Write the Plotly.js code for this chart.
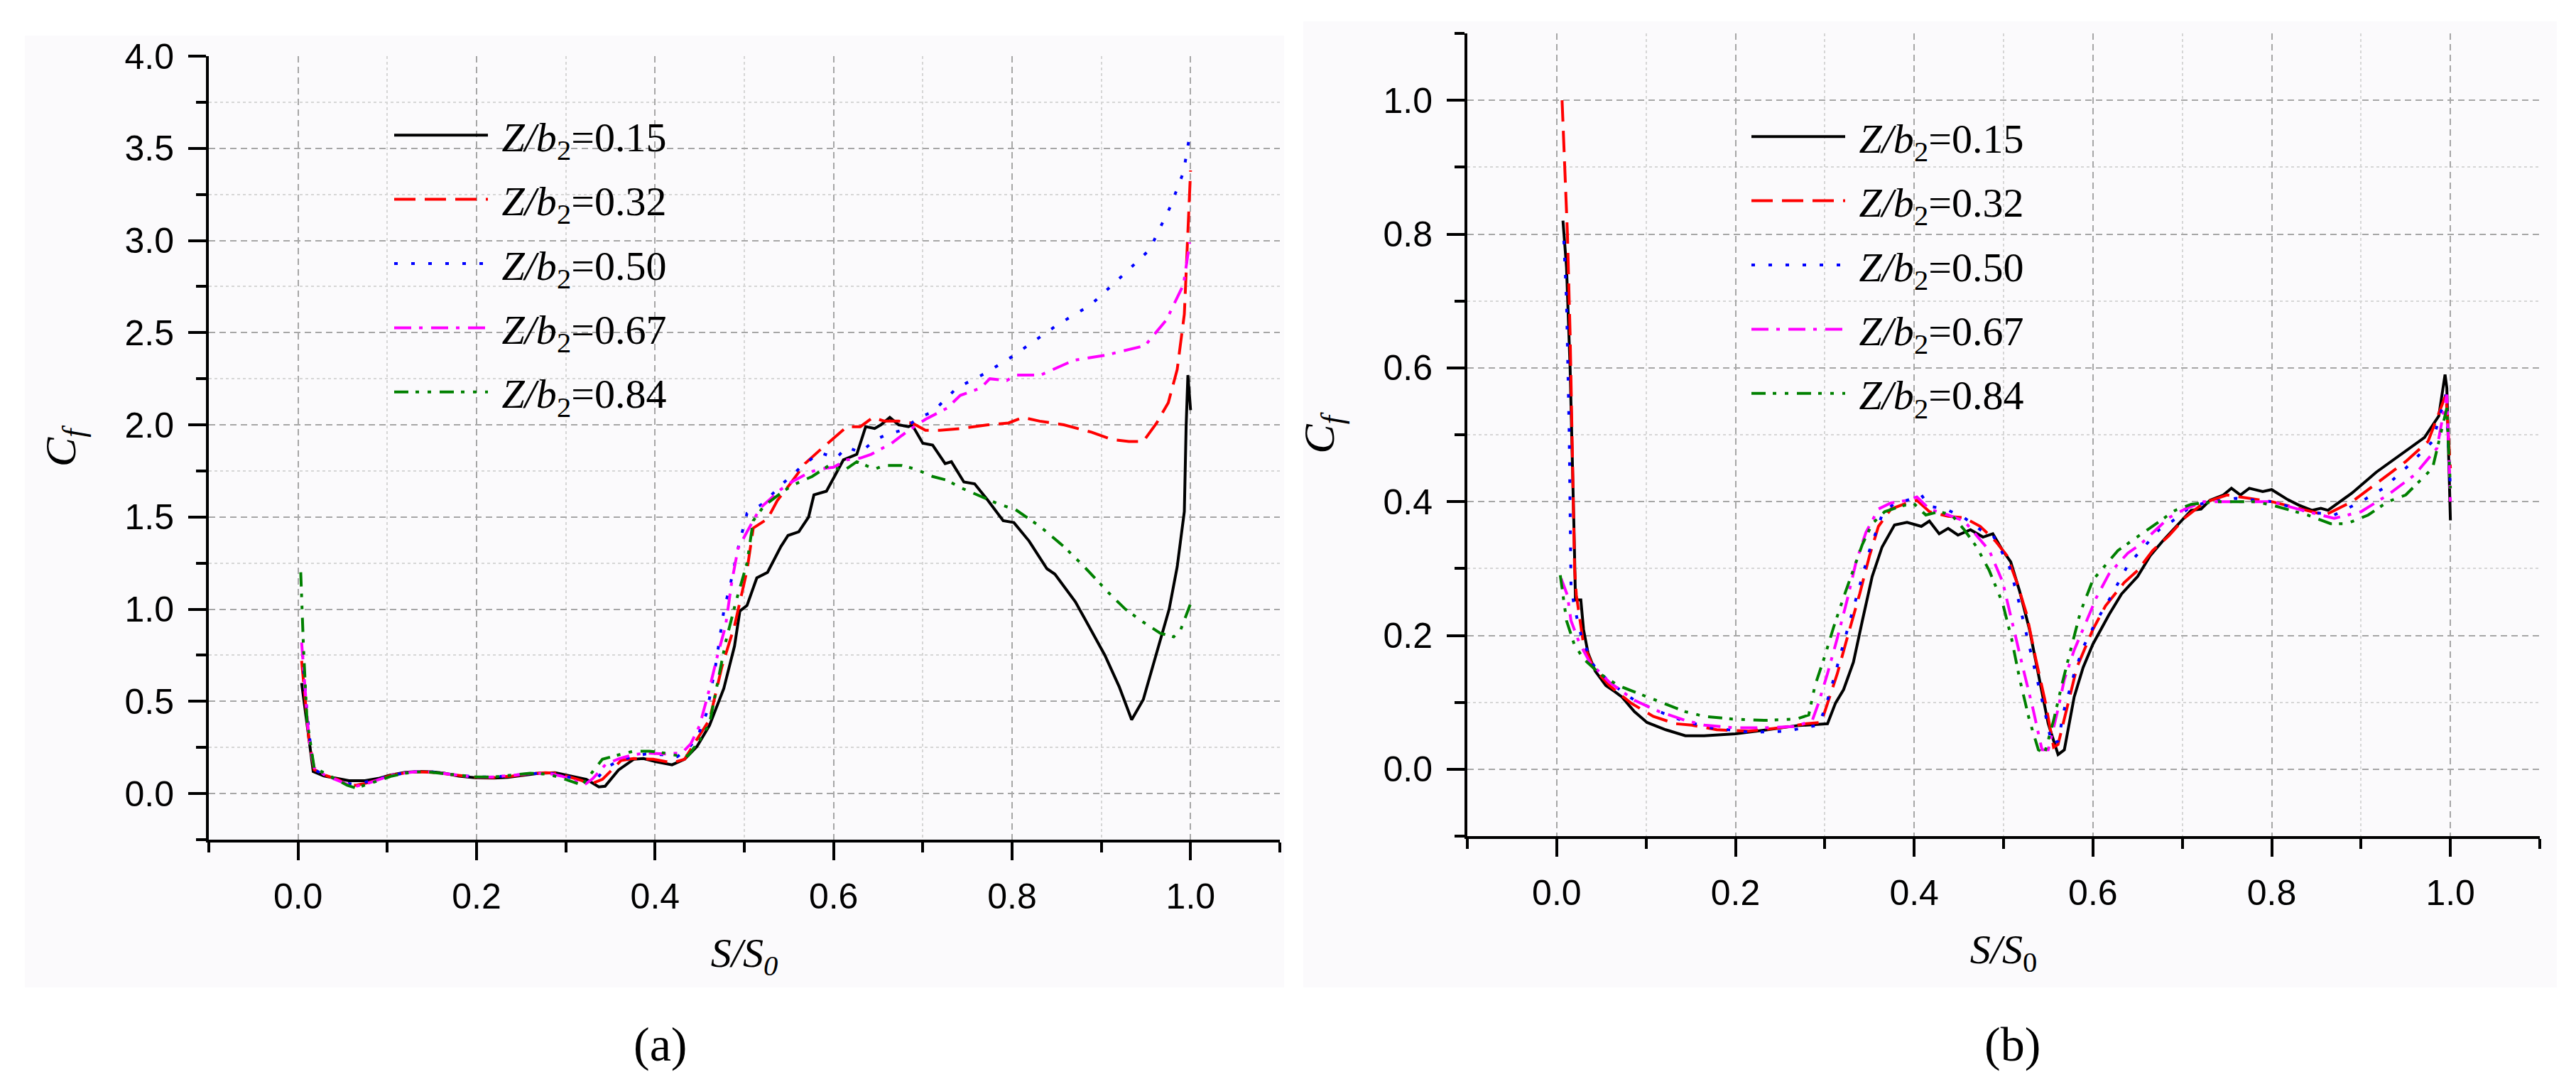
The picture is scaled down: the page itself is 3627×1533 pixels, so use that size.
<!DOCTYPE html>
<html>
<head>
<meta charset="utf-8">
<script src="https://cdn.plot.ly/plotly-3.0.1.min.js"></script>
<style>html,body{margin:0;padding:0;background:#fff;} #chart{width:3627px;height:1533px;}</style>
</head>
<body>
<div id="chart"></div>
<script>
// ---------- Data: panel (a) ----------
const aX15 = [0.004,0.008,0.012,0.017,0.029,0.045,0.057,0.075,0.09,0.103,
 0.12,0.135,0.15,0.164,0.18,0.2,0.22,0.235,0.255,0.27,
 0.288,0.305,0.323,0.337,0.344,0.359,0.376,0.387,0.401,0.419,
 0.433,0.447,0.461,0.477,0.489,0.495,0.503,0.514,0.526,0.541,
 0.549,0.561,0.572,0.578,0.592,0.601,0.611,0.626,0.636,0.646,
 0.653,0.663,0.673,0.684,0.688,0.70,0.711,0.725,0.732,0.746,
 0.758,0.773,0.79,0.802,0.819,0.839,0.848,0.871,0.889,0.904,
 0.92,0.934,0.947,0.962,0.976,0.985,0.993,0.995,0.997,1.0];
const aY15 = [0.60,0.45,0.28,0.12,0.096,0.08,0.07,0.07,0.082,0.10,
 0.115,0.12,0.118,0.11,0.095,0.085,0.084,0.088,0.10,0.11,
 0.113,0.096,0.077,0.036,0.04,0.128,0.186,0.19,0.173,0.156,
 0.186,0.256,0.37,0.57,0.80,0.99,1.02,1.17,1.20,1.34,
 1.40,1.42,1.50,1.62,1.64,1.72,1.81,1.84,1.99,1.98,
 2.00,2.04,2.00,1.99,2.00,1.90,1.89,1.79,1.80,1.69,
 1.68,1.59,1.48,1.47,1.37,1.22,1.19,1.04,0.88,0.75,
 0.58,0.40,0.51,0.77,1.00,1.23,1.53,1.99,2.27,2.08];

const aX32 = [0.004,0.008,0.012,0.018,0.03,0.045,0.054,0.065,0.075,0.09,
 0.105,0.12,0.135,0.15,0.17,0.2,0.22,0.24,0.26,0.277,
 0.29,0.305,0.318,0.327,0.341,0.352,0.362,0.376,0.398,0.419,
 0.433,0.447,0.461,0.475,0.489,0.503,0.51,0.526,0.537,0.553,
 0.568,0.584,0.601,0.615,0.63,0.644,0.657,0.673,0.688,0.703,
 0.719,0.742,0.773,0.796,0.812,0.831,0.858,0.889,0.912,0.931,
 0.947,0.962,0.975,0.985,0.993,0.997,1.0];
const aY32 = [0.72,0.5,0.3,0.13,0.10,0.075,0.05,0.045,0.055,0.075,
 0.10,0.112,0.118,0.115,0.105,0.088,0.087,0.095,0.108,0.113,
 0.11,0.09,0.07,0.05,0.077,0.13,0.18,0.19,0.186,0.167,
 0.186,0.295,0.40,0.69,0.91,1.21,1.44,1.49,1.59,1.69,
 1.79,1.86,1.93,1.99,1.99,2.04,2.02,2.02,2.01,1.97,
 1.97,1.98,2.0,2.01,2.04,2.02,2.0,1.96,1.92,1.91,
 1.91,2.01,2.12,2.3,2.6,3.0,3.38];

const aX50 = [0.005,0.009,0.013,0.018,0.03,0.045,0.055,0.065,0.075,0.09,
 0.105,0.12,0.135,0.15,0.17,0.2,0.22,0.24,0.26,0.28,
 0.295,0.31,0.325,0.333,0.345,0.36,0.375,0.39,0.41,0.425,
 0.438,0.447,0.458,0.468,0.477,0.485,0.493,0.503,0.52,0.545,
 0.561,0.584,0.603,0.615,0.63,0.647,0.661,0.676,0.696,0.711,
 0.738,0.77,0.80,0.85,0.888,0.926,0.954,0.977,0.992,0.999];
const aY50 = [0.76,0.5,0.3,0.13,0.10,0.075,0.055,0.05,0.06,0.078,
 0.10,0.112,0.12,0.117,0.105,0.09,0.09,0.098,0.108,0.112,
 0.10,0.08,0.06,0.07,0.14,0.18,0.20,0.215,0.21,0.20,
 0.25,0.30,0.44,0.70,0.99,1.15,1.33,1.52,1.57,1.69,
 1.76,1.85,1.82,1.88,1.85,1.92,1.95,1.97,2.04,2.07,
 2.2,2.28,2.37,2.54,2.65,2.82,2.95,3.18,3.37,3.57];

const aX67 = [0.004,0.008,0.012,0.018,0.03,0.045,0.055,0.065,0.075,0.09,
 0.105,0.12,0.135,0.15,0.17,0.2,0.22,0.24,0.26,0.28,
 0.295,0.31,0.32,0.33,0.345,0.36,0.375,0.39,0.41,0.43,
 0.44,0.45,0.46,0.47,0.479,0.486,0.493,0.503,0.518,0.541,
 0.553,0.572,0.584,0.6,0.615,0.63,0.642,0.665,0.684,0.703,
 0.727,0.742,0.765,0.775,0.794,0.804,0.832,0.869,0.907,0.949,
 0.973,0.992,0.999];
const aY67 = [0.82,0.55,0.3,0.14,0.10,0.07,0.05,0.04,0.05,0.075,
 0.10,0.112,0.12,0.117,0.105,0.088,0.09,0.098,0.108,0.11,
 0.095,0.07,0.045,0.08,0.16,0.19,0.21,0.22,0.215,0.22,
 0.27,0.37,0.55,0.75,0.91,1.15,1.33,1.42,1.55,1.65,
 1.69,1.74,1.76,1.77,1.81,1.82,1.84,1.9,1.97,2.03,
 2.09,2.16,2.2,2.25,2.24,2.27,2.27,2.35,2.38,2.43,
 2.57,2.76,2.99];

const aX84 = [0.003,0.006,0.01,0.018,0.03,0.045,0.055,0.065,0.075,0.09,
 0.105,0.12,0.135,0.15,0.17,0.2,0.22,0.24,0.26,0.28,
 0.295,0.31,0.318,0.327,0.341,0.355,0.376,0.394,0.41,0.426,
 0.437,0.45,0.461,0.47,0.479,0.49,0.503,0.51,0.522,0.541,
 0.553,0.576,0.595,0.611,0.626,0.646,0.657,0.676,0.692,0.711,
 0.727,0.742,0.765,0.785,0.804,0.831,0.858,0.881,0.908,0.927,
 0.947,0.966,0.981,0.989,1.0];
const aY84 = [1.2,0.8,0.4,0.14,0.11,0.07,0.045,0.03,0.045,0.07,
 0.095,0.11,0.118,0.115,0.105,0.09,0.09,0.10,0.11,0.105,
 0.085,0.06,0.045,0.10,0.186,0.205,0.23,0.23,0.22,0.205,
 0.205,0.29,0.38,0.6,0.82,1.03,1.25,1.48,1.56,1.63,
 1.67,1.72,1.78,1.75,1.8,1.76,1.78,1.78,1.76,1.72,
 1.70,1.66,1.61,1.57,1.54,1.45,1.34,1.23,1.09,1.0,
 0.93,0.87,0.85,0.89,1.03];

// ---------- Data: panel (b) ----------
const bX15 = [0.007,0.011,0.015,0.018,0.0195,0.021,0.027,0.030,0.035,0.043,
 0.055,0.065,0.073,0.087,0.101,0.122,0.144,0.165,0.2,0.236,
 0.268,0.303,0.312,0.321,0.332,0.342,0.353,0.364,0.378,0.392,
 0.403,0.408,0.417,0.428,0.438,0.449,0.463,0.477,0.488,0.499,
 0.508,0.518,0.529,0.54,0.55,0.561,0.568,0.579,0.589,0.6,
 0.618,0.632,0.65,0.664,0.678,0.696,0.71,0.721,0.731,0.746,
 0.755,0.765,0.775,0.79,0.8,0.818,0.83,0.845,0.855,0.863,
 0.89,0.917,0.944,0.971,0.987,0.994,0.996,1.0];
const bY15 = [0.82,0.75,0.6,0.45,0.35,0.253,0.253,0.209,0.174,0.147,
 0.125,0.116,0.108,0.086,0.07,0.059,0.05,0.05,0.053,0.059,
 0.065,0.068,0.099,0.119,0.16,0.222,0.288,0.332,0.365,0.369,
 0.365,0.363,0.371,0.352,0.36,0.35,0.358,0.347,0.352,0.327,
 0.31,0.266,0.209,0.134,0.068,0.022,0.029,0.108,0.152,0.187,
 0.231,0.262,0.288,0.319,0.341,0.367,0.387,0.389,0.402,0.41,
 0.42,0.41,0.42,0.415,0.418,0.403,0.395,0.387,0.39,0.387,
 0.413,0.444,0.47,0.496,0.528,0.59,0.57,0.372];

const bX32 = [0.006,0.009,0.012,0.015,0.018,0.02,0.022,0.03,0.041,0.059,
 0.083,0.108,0.133,0.151,0.179,0.215,0.25,0.279,0.296,0.303,
 0.314,0.325,0.339,0.35,0.36,0.374,0.392,0.403,0.417,0.438,
 0.456,0.474,0.491,0.504,0.515,0.526,0.536,0.547,0.556,0.561,
 0.572,0.582,0.6,0.614,0.635,0.65,0.667,0.685,0.703,0.724,
 0.75,0.775,0.8,0.83,0.86,0.89,0.92,0.95,0.975,0.995,1.0];
const bY32 = [1.0,0.9,0.8,0.65,0.45,0.3,0.26,0.187,0.152,0.125,
 0.099,0.079,0.068,0.066,0.059,0.057,0.062,0.068,0.07,0.099,
 0.143,0.196,0.262,0.319,0.363,0.389,0.398,0.402,0.385,0.378,
 0.376,0.363,0.341,0.319,0.279,0.231,0.165,0.099,0.033,0.037,
 0.099,0.152,0.209,0.244,0.279,0.297,0.327,0.349,0.376,0.398,
 0.41,0.405,0.40,0.39,0.38,0.40,0.43,0.46,0.49,0.56,0.45];

const bX50 = [0.008,0.011,0.014,0.016,0.0195,0.028,0.041,0.059,0.087,0.115,
 0.14,0.172,0.218,0.257,0.293,0.3,0.307,0.321,0.328,0.339,
 0.35,0.364,0.378,0.392,0.408,0.417,0.435,0.456,0.474,0.488,
 0.506,0.515,0.526,0.536,0.547,0.554,0.561,0.568,0.579,0.589,
 0.604,0.618,0.639,0.657,0.674,0.689,0.706,0.724,0.76,0.8,
 0.84,0.87,0.9,0.925,0.95,0.98,0.995,1.0];
const bY50 = [0.79,0.7,0.5,0.275,0.244,0.196,0.156,0.13,0.103,0.086,
 0.073,0.062,0.055,0.057,0.066,0.09,0.121,0.187,0.222,0.275,
 0.327,0.38,0.398,0.402,0.41,0.393,0.389,0.376,0.358,0.35,
 0.305,0.262,0.2,0.143,0.081,0.037,0.042,0.09,0.143,0.182,
 0.222,0.253,0.305,0.332,0.358,0.371,0.389,0.398,0.405,0.40,
 0.385,0.38,0.40,0.42,0.45,0.49,0.56,0.42];

const bX67 = [0.005,0.012,0.016,0.025,0.037,0.059,0.087,0.115,0.144,0.165,
 0.197,0.232,0.268,0.286,0.293,0.303,0.314,0.325,0.335,0.346,
 0.36,0.374,0.392,0.403,0.417,0.438,0.456,0.47,0.484,0.499,
 0.511,0.522,0.533,0.543,0.55,0.561,0.568,0.579,0.593,0.604,
 0.618,0.639,0.653,0.667,0.685,0.703,0.724,0.76,0.8,0.84,
 0.87,0.9,0.93,0.96,0.985,0.996,1.0];
const bY67 = [0.285,0.26,0.222,0.19,0.16,0.13,0.103,0.086,0.073,0.066,
 0.062,0.062,0.064,0.073,0.099,0.143,0.196,0.253,0.31,0.354,
 0.389,0.398,0.402,0.407,0.389,0.38,0.371,0.349,0.327,0.28,
 0.21,0.15,0.09,0.029,0.029,0.09,0.134,0.178,0.222,0.257,
 0.292,0.323,0.336,0.354,0.376,0.389,0.40,0.40,0.40,0.385,
 0.375,0.385,0.41,0.44,0.48,0.56,0.40];

const bX84 = [0.004,0.011,0.0195,0.03,0.048,0.069,0.09,0.119,0.144,0.165,
 0.197,0.232,0.268,0.282,0.289,0.3,0.31,0.321,0.332,0.342,
 0.353,0.367,0.385,0.399,0.413,0.428,0.442,0.456,0.47,0.484,
 0.499,0.509,0.518,0.529,0.539,0.546,0.556,0.565,0.575,0.586,
 0.6,0.614,0.628,0.643,0.657,0.674,0.692,0.71,0.74,0.78,
 0.8,0.84,0.866,0.884,0.908,0.93,0.95,0.98,0.996,1.0];
const bY84 = [0.29,0.222,0.187,0.165,0.143,0.125,0.114,0.099,0.086,0.079,
 0.075,0.073,0.075,0.081,0.125,0.169,0.213,0.257,0.297,0.336,
 0.367,0.385,0.393,0.398,0.38,0.385,0.38,0.358,0.332,0.297,
 0.248,0.195,0.135,0.073,0.029,0.024,0.073,0.125,0.178,0.235,
 0.283,0.305,0.327,0.341,0.354,0.371,0.387,0.396,0.40,0.40,
 0.395,0.38,0.367,0.367,0.38,0.40,0.41,0.45,0.54,0.42];

// ---------- Labels ----------
const seriesNames = ['\u00A0<i>Z/b</i><sub>2</sub>=0.15','\u00A0<i>Z/b</i><sub>2</sub>=0.32','\u00A0<i>Z/b</i><sub>2</sub>=0.50','\u00A0<i>Z/b</i><sub>2</sub>=0.67','\u00A0<i>Z/b</i><sub>2</sub>=0.84'];
const xTitleA = '<i>S/S<sub>0</sub></i>';
const xTitleB = '<i>S/S</i><sub>0</sub>';
const yTitle = '<i>C<sub>f</sub></i>';
const captions = ['(a)','(b)'];

// ---------- Styles ----------
const colors = ['#000000','#ff0000','#0000ff','#ff00ff','#008000'];
const dashes = ['solid','30px,13px','5px,19px','24px,11px,5px,12px','20px,10px,5px,12px,5px,12px'];

const W = 3627, H = 1533;
const px = v => v / W;
const py = v => 1 - v / H;

const aXs = [aX15, aX32, aX50, aX67, aX84];
const aYs = [aY15, aY32, aY50, aY67, aY84];
const bXs = [bX15, bX32, bX50, bX67, bX84];
const bYs = [bY15, bY32, bY50, bY67, bY84];

const traces = [];
for (let i = 0; i < 5; i++) {
  traces.push({x: aXs[i], y: aYs[i], type: 'scatter', mode: 'lines', name: seriesNames[i],
    xaxis: 'x', yaxis: 'y', legend: 'legend', legendgroup: 'a' + i,
    line: {color: colors[i], width: 4, dash: dashes[i]}});
}
for (let i = 0; i < 5; i++) {
  traces.push({x: bXs[i], y: bYs[i], type: 'scatter', mode: 'lines', name: seriesNames[i],
    xaxis: 'x2', yaxis: 'y2', legend: 'legend2', legendgroup: 'b' + i,
    line: {color: colors[i], width: 4, dash: dashes[i]}});
}

const tickFont = {family: 'Liberation Sans, Arial, sans-serif', size: 50, color: '#000'};
const serif = 'Liberation Serif, Times New Roman, serif';

function xAxis(domain, title, anchor) {
  return {
    domain: domain, anchor: anchor, range: [-0.1, 1.1], tick0: 0, dtick: 0.2, tickformat: '.1f',
    ticks: 'outside', ticklen: 25, tickwidth: 4, tickcolor: '#000',
    showline: true, linewidth: 4, linecolor: '#000', mirror: false, zeroline: false,
    showgrid: true, gridcolor: '#a6a6a6', gridwidth: 2, griddash: '9px,6px',
    tickfont: tickFont, ticklabelstandoff: 8,
    minor: {tick0: 0, dtick: 0.1, ticks: 'outside', ticklen: 14, tickwidth: 4, tickcolor: '#000',
            showgrid: true, gridcolor: '#d6d6d6', gridwidth: 2, griddash: '4px,4px'},
    title: {text: title, font: {family: serif, size: 58, color: '#000'}, standoff: 32}
  };
}
function yAxis(domain, range, dtick, minorDtick, anchor) {
  return {
    domain: domain, anchor: anchor, range: range, tick0: 0, dtick: dtick, tickformat: '.1f',
    ticks: 'outside', ticklen: 25, tickwidth: 4, tickcolor: '#000',
    showline: true, linewidth: 4, linecolor: '#000', mirror: false, zeroline: false,
    showgrid: true, gridcolor: '#a6a6a6', gridwidth: 2, griddash: '9px,6px',
    tickfont: tickFont, ticklabelstandoff: 10,
    minor: {tick0: 0, dtick: minorDtick, ticks: 'outside', ticklen: 14, tickwidth: 4, tickcolor: '#000',
            showgrid: true, gridcolor: '#d6d6d6', gridwidth: 2, griddash: '4px,4px'},
    title: {text: yTitle, font: {family: serif, size: 62, color: '#000'}, standoff: 50}
  };
}

const legendBase = {
  xanchor: 'left', yanchor: 'top', bgcolor: 'rgba(0,0,0,0)', borderwidth: 0,
  font: {family: serif, size: 58, color: '#000'}, itemwidth: 132, tracegroupgap: 12,
  itemclick: false, itemdoubleclick: false
};

const layout = {
  width: W, height: H, autosize: false,
  margin: {l: 0, r: 0, t: 0, b: 0, pad: 0},
  paper_bgcolor: '#ffffff', plot_bgcolor: 'rgba(0,0,0,0)',
  showlegend: true,
  xaxis: xAxis([px(294), px(1802)], xTitleA, 'y'),
  yaxis: yAxis([py(1182), py(79)], [-0.25, 4.0], 0.5, 0.25, 'x'),
  xaxis2: xAxis([px(2066), px(3576)], xTitleB, 'y2'),
  yaxis2: yAxis([py(1177), py(47)], [-0.1, 1.1], 0.2, 0.1, 'x2'),
  legend: Object.assign({x: px(550), y: py(146)}, legendBase),
  legend2: Object.assign({x: px(2461), y: py(148)}, legendBase),
  shapes: [
    {type: 'rect', xref: 'paper', yref: 'paper', x0: px(35), x1: px(1808), y0: py(1390), y1: py(50),
     fillcolor: '#fbfafc', line: {width: 0}, layer: 'below'},
    {type: 'rect', xref: 'paper', yref: 'paper', x0: px(1835), x1: px(3600), y0: py(1390), y1: py(30),
     fillcolor: '#fbfafc', line: {width: 0}, layer: 'below'}
  ],
  annotations: [
    {text: captions[0], xref: 'paper', yref: 'paper', x: px(930), y: py(1470), xanchor: 'center', yanchor: 'middle',
     showarrow: false, font: {family: serif, size: 68, color: '#000'}},
    {text: captions[1], xref: 'paper', yref: 'paper', x: px(2833), y: py(1470), xanchor: 'center', yanchor: 'middle',
     showarrow: false, font: {family: serif, size: 68, color: '#000'}}
  ]
};

Plotly.newPlot('chart', traces, layout, {staticPlot: true, displayModeBar: false});
</script>
</body>
</html>
